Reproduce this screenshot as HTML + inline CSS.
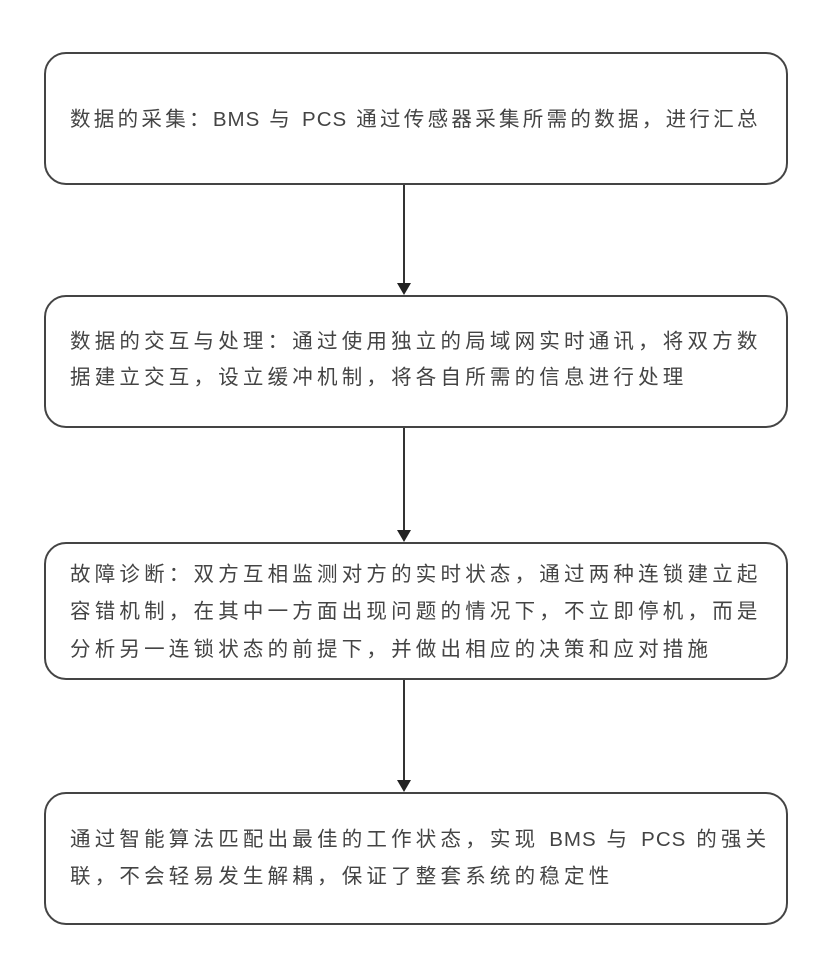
<!DOCTYPE html>
<html><head><meta charset="utf-8"><style>
body{margin:0;width:829px;height:966px;background:#fff;position:relative;overflow:hidden;font-family:"Liberation Sans","Noto Sans CJK SC",sans-serif;}
.b{position:absolute;left:44px;width:744px;border:2px solid #444;border-radius:22px;box-sizing:border-box;}
.t{position:absolute;left:70px;font-size:20.5px;letter-spacing:4.2px;color:#444;white-space:nowrap;line-height:24px;}
.t span{letter-spacing:1px;}
.a{position:absolute;left:403px;width:2px;background:#333;}
.h{position:absolute;left:397px;width:0;height:0;border-left:7px solid transparent;border-right:7px solid transparent;border-top:12px solid #222;}
</style></head><body>
<div class="b" style="top:52px;height:133px"></div>
<div class="t" style="top:108px;letter-spacing:3.3px">数据的采集：<span>BMS</span> 与 <span>PCS</span> 通过传感器采集所需的数据，进行汇总</div>
<div class="a" style="top:185px;height:100px"></div><div class="h" style="top:283px"></div>

<div class="b" style="top:295px;height:133px"></div>
<div class="t" style="top:330px">数据的交互与处理：通过使用独立的局域网实时通讯，将双方数</div>
<div class="t" style="top:366px">据建立交互，设立缓冲机制，将各自所需的信息进行处理</div>
<div class="a" style="top:428px;height:104px"></div><div class="h" style="top:530px"></div>

<div class="b" style="top:542px;height:138px"></div>
<div class="t" style="top:563px">故障诊断：双方互相监测对方的实时状态，通过两种连锁建立起</div>
<div class="t" style="top:600px">容错机制，在其中一方面出现问题的情况下，不立即停机，而是</div>
<div class="t" style="top:638px">分析另一连锁状态的前提下，并做出相应的决策和应对措施</div>
<div class="a" style="top:680px;height:102px"></div><div class="h" style="top:780px"></div>

<div class="b" style="top:792px;height:133px"></div>
<div class="t" style="top:828px">通过智能算法匹配出最佳的工作状态，实现 <span>BMS</span> 与 <span>PCS</span> 的强关</div>
<div class="t" style="top:865px">联，不会轻易发生解耦，保证了整套系统的稳定性</div>
</body></html>
